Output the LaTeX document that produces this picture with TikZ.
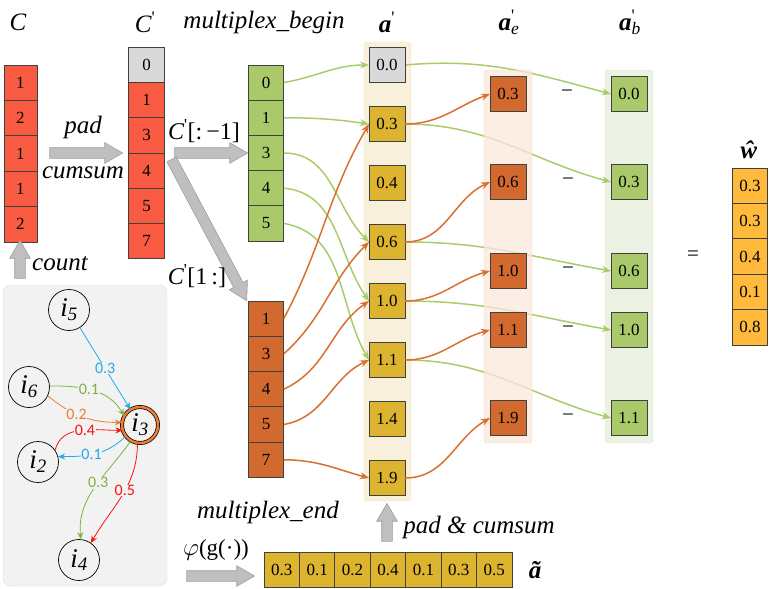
\documentclass[tikz,border=0pt]{standalone}
\usepackage{fontspec}
\setmainfont{Liberation Serif}
\newfontfamily\edgefont{Carlito}
\usepackage{tikz}
\usetikzlibrary{arrows.meta,positioning,shapes.arrows,calc}
\definecolor{colred}{HTML}{F85B42}
\definecolor{colgray}{HTML}{D9D9D9}
\definecolor{colgreen}{HTML}{A9C96A}
\definecolor{colorange}{HTML}{D26A30}
\definecolor{colgold}{HTML}{DDB430}
\definecolor{colamber}{HTML}{FFB93B}
\definecolor{wiregreen}{HTML}{A9CC6B}
\definecolor{wireorange}{HTML}{D8702F}
\definecolor{panelgold}{HTML}{F8F0DA}
\definecolor{panelpeach}{HTML}{FBE8DC}
\definecolor{panelmint}{HTML}{EBF2E3}
\definecolor{boxgray}{HTML}{F2F2F2}
\definecolor{eblue}{HTML}{1EAEE6}
\definecolor{egreen}{HTML}{7FB241}
\definecolor{eorange}{HTML}{EE7D31}
\definecolor{ered}{HTML}{FF1010}
\pgfdeclarelayer{back}
\pgfdeclarelayer{wires}
\pgfdeclarelayer{veil}
\pgfsetlayers{back,wires,veil,main}

\begin{document}
\begin{tikzpicture}[x=1pt, y=-1pt, >={Stealth[length=9pt,width=7pt]}, node distance=0pt, line width=0.8pt]
\tikzstyle{cell}=[draw=black!75, minimum width=35.5pt, minimum height=35.4pt, inner sep=0pt, outer sep=0pt, font=\fontsize{17}{17}\selectfont]
\tikzstyle{title}=[font=\fontsize{25}{25}\selectfont\itshape]
\tikzstyle{fat}=[single arrow, draw=black!38, fill=black!25, line width=0.6pt, inner xsep=0pt, inner ysep=5pt, single arrow head extend=5pt, single arrow tip angle=60]
\tikzstyle{wg}=[->, wiregreen, line width=1.5pt]
\tikzstyle{wo}=[->, wireorange, line width=1.5pt]
\tikzstyle{vert}=[circle, draw=black, line width=0.7pt, minimum size=41pt, inner sep=0pt, font=\fontsize{27}{27}\selectfont\itshape]
\tikzstyle{gedge}=[->, >={Stealth[length=7pt,width=6pt]}, line width=0.8pt]
\tikzstyle{wt}=[fill=boxgray, inner sep=0.5pt, font=\fontsize{16}{16}\selectfont\edgefont]
\useasboundingbox (0,0) rectangle (772,589);

% titles
\node[title] (tC) at (18,22) {C};
\node[title] (tCp) at (145,22) {C\textsuperscript{\upshape\textquotesingle}};
\node[title] (tbegin) at (264,22) {multiplex\_begin};
\node[title] (ta) at (387,22) {{\bfseries a}\textsuperscript{\upshape\textquotesingle}};
\node[title] (tae) at (509,22) {{\bfseries a}\rlap{\textsuperscript{\upshape\textquotesingle}}\textsubscript{e}};
\node[title] (tab) at (630,22) {{\bfseries a}\rlap{\textsuperscript{\upshape\textquotesingle}}\textsubscript{b}};
\node[title] (tw) at (749,150) {\bfseries ŵ};
\node[title] (tend) at (268,512) {multiplex\_end};
\node[title] (tt) at (535,570) {\bfseries ã};

% C and C'
\node[cell, fill=colred, minimum width=33pt] (c1) at (20.5,82.7) {1};
\node[cell, fill=colred, minimum width=33pt, below=of c1] (c2) {2};
\node[cell, fill=colred, minimum width=33pt, below=of c2] (c3) {1};
\node[cell, fill=colred, minimum width=33pt, below=of c3] (c4) {1};
\node[cell, fill=colred, minimum width=33pt, below=of c4] (c5) {2};
\node[cell, fill=colgray, minimum height=35.3pt] (cp0) at (146.5,64.7) {0};
\node[cell, fill=colred, minimum height=35.3pt, below=of cp0] (cp1) {1};
\node[cell, fill=colred, minimum height=35.3pt, below=of cp1] (cp2) {3};
\node[cell, fill=colred, minimum height=35.3pt, below=of cp2] (cp3) {4};
\node[cell, fill=colred, minimum height=35.3pt, below=of cp3] (cp4) {5};
\node[cell, fill=colred, minimum height=35.3pt, below=of cp4] (cp5) {7};

% multiplex begin / end
\node[cell, fill=colgreen, minimum height=35.2pt] (mb1) at (266,82.6) {0};
\node[cell, fill=colgreen, minimum height=35.2pt, below=of mb1] (mb2) {1};
\node[cell, fill=colgreen, minimum height=35.2pt, below=of mb2] (mb3) {3};
\node[cell, fill=colgreen, minimum height=35.2pt, below=of mb3] (mb4) {4};
\node[cell, fill=colgreen, minimum height=35.2pt, below=of mb4] (mb5) {5};
\node[cell, fill=colorange, minimum height=35.3pt] (me1) at (266,318.6) {1};
\node[cell, fill=colorange, minimum height=35.3pt, below=of me1] (me2) {3};
\node[cell, fill=colorange, minimum height=35.3pt, below=of me2] (me3) {4};
\node[cell, fill=colorange, minimum height=35.3pt, below=of me3] (me4) {5};
\node[cell, fill=colorange, minimum height=35.3pt, below=of me4] (me5) {7};

% a'
\node[cell, fill=colgray, minimum width=36pt, minimum height=35.5pt] (a0) at (387,65) {0.0};
\node[cell, fill=colgold, minimum width=36pt, minimum height=35.5pt, below=23.5pt of a0] (a1) {0.3};
\node[cell, fill=colgold, minimum width=36pt, minimum height=35.5pt, below=23.5pt of a1] (a2) {0.4};
\node[cell, fill=colgold, minimum width=36pt, minimum height=35.5pt, below=23.5pt of a2] (a3) {0.6};
\node[cell, fill=colgold, minimum width=36pt, minimum height=35.5pt, below=23.5pt of a3] (a4) {1.0};
\node[cell, fill=colgold, minimum width=36pt, minimum height=35.5pt, below=23.5pt of a4] (a5) {1.1};
\node[cell, fill=colgold, minimum width=36pt, minimum height=35.5pt, below=23.5pt of a5] (a6) {1.4};
\node[cell, fill=colgold, minimum width=36pt, minimum height=35.5pt, below=23.5pt of a6] (a7) {1.9};

% a'_e and a'_b
\node[cell, fill=colorange, minimum width=36pt] (e1) at (508,94) {0.3};
\node[cell, fill=colorange, minimum width=36pt] (e2) at (508,182) {0.6};
\node[cell, fill=colorange, minimum width=36pt] (e3) at (508,271) {1.0};
\node[cell, fill=colorange, minimum width=36pt] (e4) at (508,330) {1.1};
\node[cell, fill=colorange, minimum width=36pt] (e5) at (508,418) {1.9};
\node[cell, fill=colgreen, minimum width=36pt] (b1) at (629,94) {0.0};
\node[cell, fill=colgreen, minimum width=36pt] (b2) at (629,182) {0.3};
\node[cell, fill=colgreen, minimum width=36pt] (b3) at (629,271) {0.6};
\node[cell, fill=colgreen, minimum width=36pt] (b4) at (629,330) {1.0};
\node[cell, fill=colgreen, minimum width=36pt] (b5) at (629,418) {1.1};
\node[font=\fontsize{21}{21}\selectfont] (m1) at (567,94) {−};
\node[font=\fontsize{21}{21}\selectfont] (m2) at (568,182) {−};
\node[font=\fontsize{21}{21}\selectfont] (m3) at (568,271) {−};
\node[font=\fontsize{21}{21}\selectfont] (m4) at (568,330) {−};
\node[font=\fontsize{21}{21}\selectfont] (m5) at (568,418) {−};
\node[font=\fontsize{21}{21}\selectfont] (eq) at (693,256) {=};

% w hat
\node[cell, fill=colamber] (w1) at (750,185.7) {0.3};
\node[cell, fill=colamber, below=of w1] (w2) {0.3};
\node[cell, fill=colamber, below=of w2] (w3) {0.4};
\node[cell, fill=colamber, below=of w3] (w4) {0.1};
\node[cell, fill=colamber, below=of w4] (w5) {0.8};

% a tilde
\node[cell, fill=colgold, minimum width=35.43pt, minimum height=35pt] (t1) at (281.7,569.5) {0.3};
\node[cell, fill=colgold, minimum width=35.43pt, minimum height=35pt, right=of t1] (t2) {0.1};
\node[cell, fill=colgold, minimum width=35.43pt, minimum height=35pt, right=of t2] (t3) {0.2};
\node[cell, fill=colgold, minimum width=35.43pt, minimum height=35pt, right=of t3] (t4) {0.4};
\node[cell, fill=colgold, minimum width=35.43pt, minimum height=35pt, right=of t4] (t5) {0.1};
\node[cell, fill=colgold, minimum width=35.43pt, minimum height=35pt, right=of t5] (t6) {0.3};
\node[cell, fill=colgold, minimum width=35.43pt, minimum height=35pt, right=of t6] (t7) {0.5};

% panels
\begin{pgfonlayer}{back}
\draw[rounded corners=3pt, fill=panelgold, draw=colgold!35] (364,42) rectangle (411,501);
\draw[rounded corners=3pt, fill=panelmint, draw=colgreen!40] (605,70) rectangle (653,443);
\draw[rounded corners=8pt, fill=boxgray, draw=black!12] (3,285) rectangle (167,586);
\end{pgfonlayer}
\begin{pgfonlayer}{veil}
\draw[rounded corners=3pt, fill=panelpeach, fill opacity=0.75, draw=colorange!30] (484,70) rectangle (532,443);
\end{pgfonlayer}

% block arrows
\node[fat, minimum height=73pt] (padarr) at (81.5,153) {};
\node[fat, minimum height=73pt] (headarr) at (206.5,153) {};
\node[fat, minimum height=160pt, rotate=-62] (tailarr) at (207,226) {};
\node[fat, minimum height=38pt, rotate=90] (countarr) at (20,264) {};
\node[fat, minimum height=38pt, rotate=90] (cumarr) at (387,527) {};
\node[fat, minimum height=68pt] (phiarr) at (216,576) {};
\node[title] (lpad) at (83,127) {pad};
\node[title] (lcum) at (83,173) {cumsum};
\node[title] (lcount) at (60,264) {count};
\node[title, font=\fontsize{24}{24}\selectfont] (lhead) at (204,131) {\itshape C\textsuperscript{\upshape\textquotesingle}\upshape[:\,−1]};
\node[title, font=\fontsize{24}{24}\selectfont] (ltail) at (197,276) {\itshape C\textsuperscript{\upshape\textquotesingle}\upshape[1\,:]};
\node[title, font=\fontsize{23}{23}\selectfont] (lphi) at (216,550) {$\varphi$(g(·))};
\node[title] (lpadcum) at (479,527) {pad \& cumsum};

% wires
\draw[wg] (mb1.east) to[out=10,in=180] (a0.west);
\draw[wg] (mb2.east) to[out=0,in=172] (a1.west);
\draw[wg] (mb3.east) to[out=0,in=135] (a3.west);
\draw[wg] (mb4.east) to[out=-5,in=125] (a4.west);
\draw[wg] (mb5.east) to[out=-10,in=120] (a5.west);
\draw[wo] (me1.east) to[out=62,in=240] (a1.west);
\draw[wo] (me2.east) to[out=42,in=225] (a3.west);
\draw[wo] (me3.east) to[out=25,in=215] (a4.west);
\draw[wo] (me4.east) to[out=10,in=205] (a5.west);
\draw[wo] (me5.east) to[out=0,in=165] (a7.west);
\draw[wo] (a1.east) to[out=0,in=200] (e1.west);
\draw[wo] (a3.east) to[out=0,in=205] (e2.west);
\draw[wo] (a4.east) to[out=0,in=195] (e3.west);
\draw[wo] (a5.east) to[out=0,in=195] (e4.west);
\draw[wo] (a7.east) to[out=0,in=210] (e5.west);
\begin{pgfonlayer}{wires}
\draw[wg] (a0.east) to[out=5,in=165] (b1.west);
\draw[wg] (a1.east) to[out=0,in=165] (b2.west);
\draw[wg] (a3.east) to[out=0,in=170] (b3.west);
\draw[wg] (a4.east) to[out=0,in=170] (b4.west);
\draw[wg] (a5.east) to[out=0,in=165] (b5.west);
\end{pgfonlayer}

% graph
\node[vert] (i5) at (69,310) {i\textsubscript{5}};
\node[vert] (i6) at (29,387) {i\textsubscript{6}};
\node[vert, double=eorange, double distance=2.5pt, minimum size=36pt] (i3) at (140,425) {i\textsubscript{3}};
\node[vert] (i2) at (38,462) {i\textsubscript{2}};
\node[vert] (i4) at (79,560) {i\textsubscript{4}};
\draw[gedge, eblue] (i5) -- node[wt, text=eblue, pos=0.5] {0.3} (i3);
\draw[gedge, egreen] (i6.3) to[out=0,in=120] node[wt, text=egreen, pos=0.45] {0.1} (i3.150);
\draw[gedge, eorange] (i6.-25) to[out=-40,in=180] node[wt, text=eorange, pos=0.42] {0.2} (i3.172);
\draw[gedge, ered] (i2.35) to[out=75,in=180] node[wt, text=ered, pos=0.55] {0.4} (i3.197);
\draw[gedge, eblue] (i3.218) to[out=225,in=0] node[wt, text=eblue, pos=0.55] {0.1} (i2.15);
\draw[gedge, egreen] (i3.240) to[out=235,in=95] node[wt, text=egreen, pos=0.45] {0.3} (i4.85);
\draw[gedge, ered] (i3.262) to[out=270,in=60] node[wt, text=ered, pos=0.45] {0.5} (i4.55);
\end{tikzpicture}
\end{document}
